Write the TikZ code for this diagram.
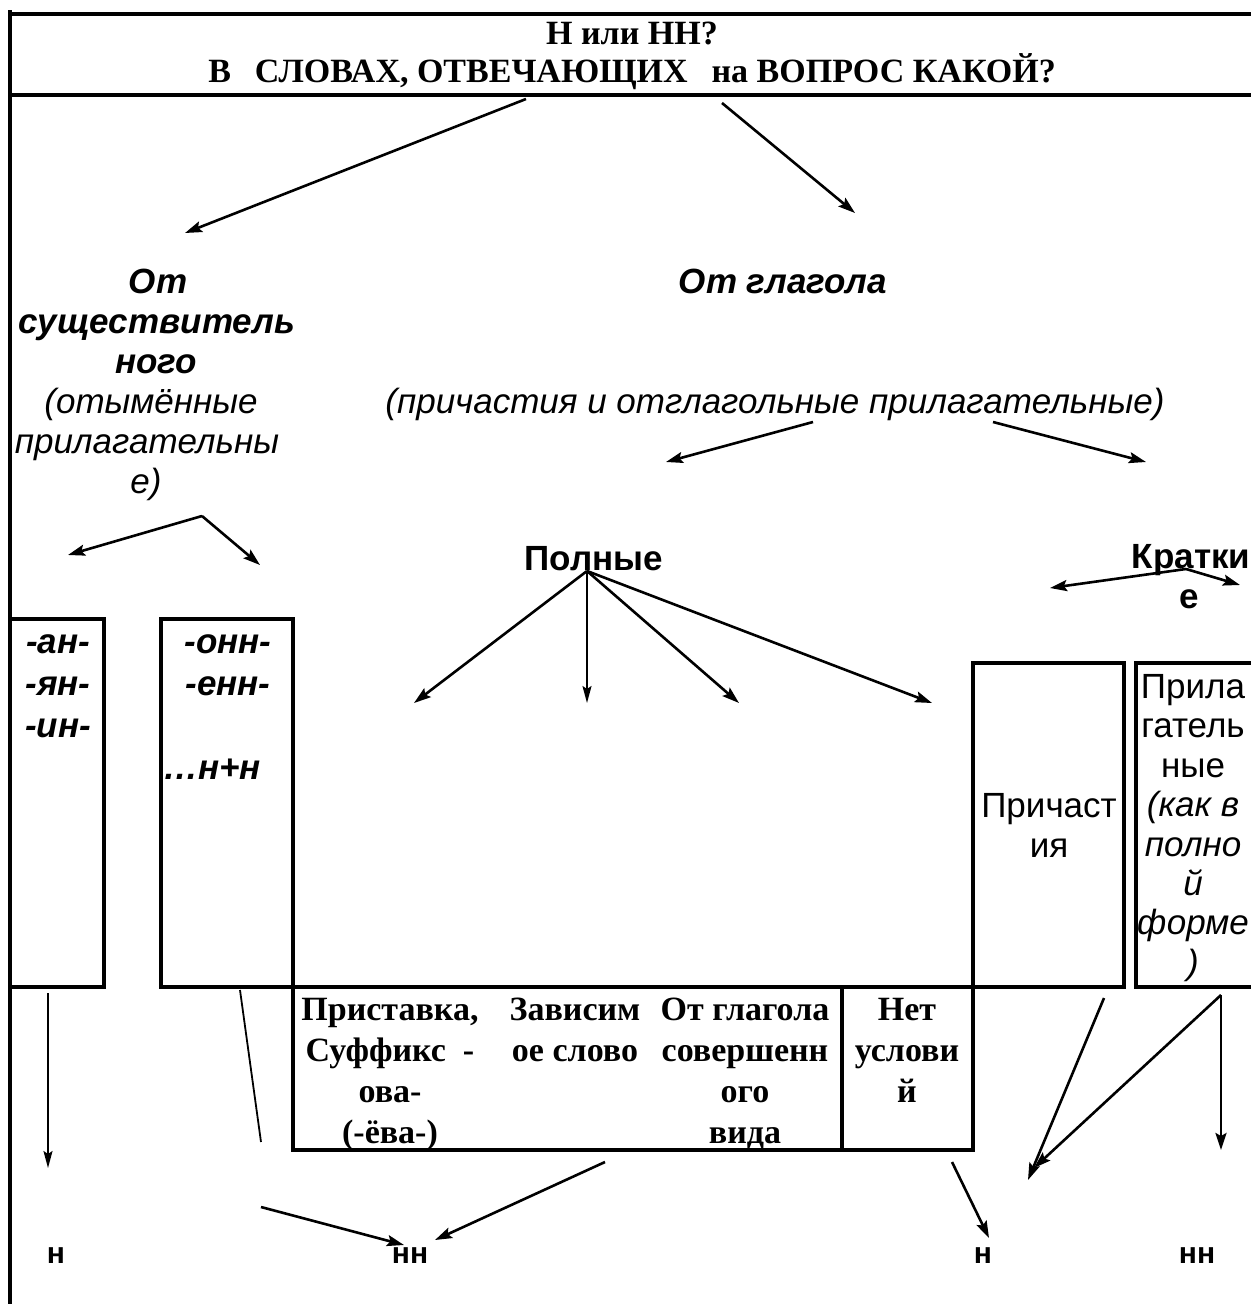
\documentclass[tikz,border=0pt]{standalone}
\usepackage{fontspec}
\setmainfont{Liberation Serif}
\setsansfont{Liberation Sans}
\usetikzlibrary{arrows.meta}
\tikzset{
  frameline/.style={line width=3.6pt, line join=miter, line cap=rect},
  headline/.style={line width=4.6pt},
  arr/.style={line width=2.6pt, -{Stealth[length=17pt,width=11pt,inset=3pt]}},
  thinarr/.style={line width=1.8pt, -{Stealth[length=17pt,width=9pt,inset=3pt]}},
  thinline/.style={line width=1.8pt},
  txt/.style={anchor=base, inner sep=0pt, outer sep=0pt},
  hdr/.style={txt, font=\bfseries\fontsize{34}{40}\selectfont},
  tab/.style={txt, font=\bfseries\fontsize{34}{40}\selectfont},
  sbi/.style={txt, font=\sffamily\bfseries\itshape\fontsize{35}{40}\selectfont},
  sit/.style={txt, font=\sffamily\itshape\fontsize{35}{40}\selectfont},
  sb/.style={txt, font=\sffamily\bfseries\fontsize{35}{40}\selectfont},
  sr/.style={txt, font=\sffamily\fontsize{35}{40}\selectfont},
  small/.style={txt, font=\sffamily\bfseries\fontsize{30}{36}\selectfont},
}
\begin{document}
\begin{tikzpicture}[x=1pt,y=-1pt]
\useasboundingbox (0,0) rectangle (1250,1308);
\fill[white] (0,0) rectangle (1250,1308);

% frame
\draw[headline] (8,14) -- (1252,14);
\draw[headline] (8,95) -- (1252,95);
\draw[frameline] (10,12) -- (10,1302);
% boxes and table
\draw[frameline] (10,619) -- (104,619) -- (104,987) -- (10,987);
\draw[frameline] (161,987) -- (161,619) -- (293,619) -- (293,1150) -- (973,1150) -- (973,663) -- (1124,663) -- (1124,987) -- (161,987);
\draw[frameline] (842,987) -- (842,1150);
\draw[frameline] (1252,663) -- (1136,663) -- (1136,987) -- (1252,987);

% header
\node[hdr] (h1) at (632,45) {Н или НН?};
\node[hdr] (h2) at (632,83) {В\hspace{24pt}СЛОВАХ, ОТВЕЧАЮЩИХ\hspace{24pt}на ВОПРОС КАКОЙ?};

% left column
\node[sbi] (ot) at (158,293) {От};
\node[sbi] (sush) at (157,333) {существитель};
\node[sbi] (nogo) at (156,373) {ного};
\node[sit] (otym) at (151,413) {(отымённые};
\node[sit] (prilag) at (147,453) {прилагательны};
\node[sit] (e1) at (146,493) {е)};

% verb column
\node[sbi] (otgl) at (783,293) {От глагола};
\node[sit] (prich) at (775,413) {(причастия и отглагольные прилагательные)};

\node[sb] (poln) at (594,570) {Полные};
\node[sb] (krat) at (1191,568) {Кратки};
\node[sb] (krate) at (1189,608) {е};

% box texts
\node[sbi] (an) at (58,653) {-ан-};
\node[sbi] (yan) at (58,695) {-ян-};
\node[sbi] (in) at (58,737) {-ин-};
\node[sbi] (onn) at (228,653) {-онн-};
\node[sbi] (enn) at (228,695) {-енн-};
\node[sbi] (nn) at (212,779) {…н+н};

\node[sr] (pr1) at (1049,817) {Причаст};
\node[sr] (pr2) at (1049,857) {ия};

\node[sr] (pa1) at (1193,698) {Прила};
\node[sr] (pa2) at (1193,737) {гатель};
\node[sr] (pa3) at (1193,777) {ные};
\node[sit] (pa4) at (1193,816) {(как в};
\node[sit] (pa5) at (1193,856) {полно};
\node[sit] (pa6) at (1193,895) {й};
\node[sit] (pa7) at (1193,934) {форме};
\node[sit] (pa8) at (1193,974) {)};

% table
\node[tab] (t11) at (390,1020) {Приставка,};
\node[tab] (t12) at (390,1061) {Суффикс\ \ -};
\node[tab] (t13) at (390,1102) {ова-};
\node[tab] (t14) at (390,1143) {(-ёва-)};
\node[tab] (t21) at (575,1020) {Зависим};
\node[tab] (t22) at (575,1061) {ое слово};
\node[tab] (t31) at (745,1020) {От глагола};
\node[tab] (t32) at (745,1061) {совершенн};
\node[tab] (t33) at (745,1102) {ого};
\node[tab] (t34) at (745,1143) {вида};
\node[tab] (t41) at (907,1020) {Нет};
\node[tab] (t42) at (907,1061) {услови};
\node[tab] (t43) at (907,1102) {й};

% bottom labels
\node[small] (r1) at (56,1263) {н};
\node[small] (r2) at (410,1263) {нн};
\node[small] (r3) at (983,1263) {н};
\node[small] (r4) at (1197,1263) {нн};

% arrow coordinates
\coordinate (hA) at (526,99);
\coordinate (hB) at (722,103);
\coordinate (nounT) at (185,233);
\coordinate (verbT) at (855,213);
\coordinate (pA) at (813,422);
\coordinate (pB) at (993,422);
\coordinate (polT) at (666,462);
\coordinate (kratT) at (1146,462);
\coordinate (sA) at (202,516);
\coordinate (sL) at (68,555);
\coordinate (sR) at (260,565);
\coordinate (polA) at (587,571);
\coordinate (p1) at (414,703);
\coordinate (p2) at (587,703);
\coordinate (p3) at (739,703);
\coordinate (p4) at (932,703);
\coordinate (kA) at (1186,569);
\coordinate (k1) at (1050,588);
\coordinate (k2) at (1240,585);
\coordinate (b1A) at (48,993);
\coordinate (b1T) at (48,1168);
\coordinate (b2A) at (240,990);
\coordinate (b2B) at (261,1142);
\coordinate (b3A) at (261,1207);
\coordinate (b3T) at (404,1245);
\coordinate (b4A) at (605,1162);
\coordinate (b4T) at (435,1240);
\coordinate (b5A) at (952,1162);
\coordinate (b5T) at (989,1238);
\coordinate (b6A) at (1104,998);
\coordinate (b6T) at (1028,1180);
\coordinate (b7A) at (1221,995);
\coordinate (b7T) at (1034,1168);
\coordinate (b8T) at (1221,1150);

\draw[arr] (hA) -- (nounT);
\draw[arr] (hB) -- (verbT);
\draw[arr] (pA) -- (polT);
\draw[arr] (pB) -- (kratT);
\draw[arr] (sA) -- (sL);
\draw[arr] (sA) -- (sR);
\draw[arr] (polA) -- (p1);
\draw[thinarr] (polA) -- (p2);
\draw[arr] (polA) -- (p3);
\draw[arr] (polA) -- (p4);
\draw[arr] (kA) -- (k1);
\draw[arr] (kA) -- (k2);
\draw[thinarr] (b1A) -- (b1T);
\draw[thinline] (b2A) -- (b2B);
\draw[arr] (b3A) -- (b3T);
\draw[arr] (b4A) -- (b4T);
\draw[arr] (b5A) -- (b5T);
\draw[arr] (b6A) -- (b6T);
\draw[arr] (b7A) -- (b7T);
\draw[arr] (b7A) -- (b8T);
\end{tikzpicture}
\end{document}
